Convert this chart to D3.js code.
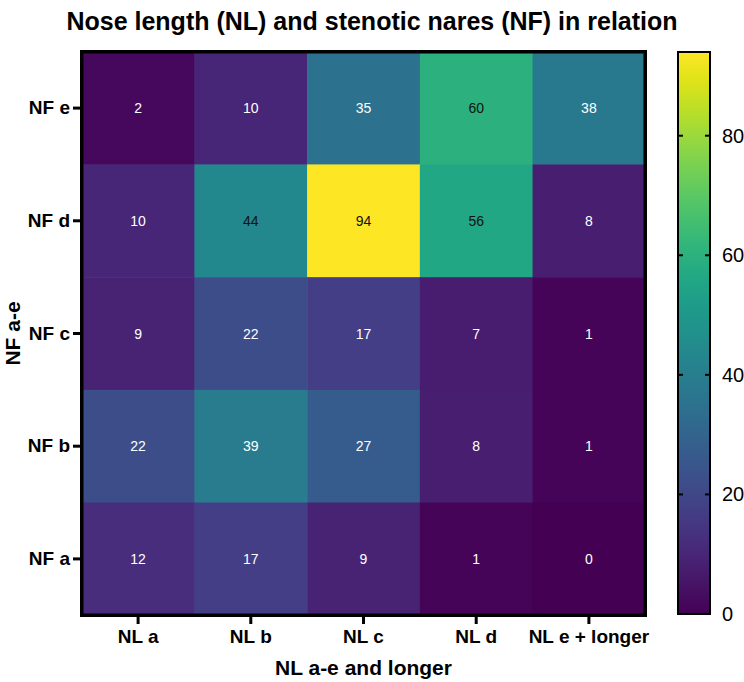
<!DOCTYPE html>
<html>
<head>
<meta charset="utf-8">
<script src="https://cdn.jsdelivr.net/npm/d3@7"></script>
<style>
  body { margin: 0; background: #fff; }
  text { font-family: "Liberation Sans", Arial, sans-serif; }
</style>
</head>
<body>
<div id="wrapper"></div>
<script>
// Data
const nlCategories = ["NL a", "NL b", "NL c", "NL d", "NL e + longer"];
const nfCategories = ["NF e", "NF d", "NF c", "NF b", "NF a"];
const nfE = [2, 10, 35, 60, 38];
const nfD = [10, 44, 94, 56, 8];
const nfC = [9, 22, 17, 7, 1];
const nfB = [22, 39, 27, 8, 1];
const nfA = [12, 17, 9, 1, 0];
const colorTicks = [0, 20, 40, 60, 80];
const colorMax = 94;

const TITLE = "Nose length (NL) and stenotic nares (NF) in relation";
const X_TITLE = "NL a-e and longer";
const Y_TITLE = "NF a-e";

// Constants
const WIDTH = 744;
const HEIGHT = 682;
const plot = { left: 81.75, right: 645.25, top: 51.75, bottom: 615.25 };
const bar = { left: 678, right: 710, top: 52, bottom: 614 };

function drawHeatmap() {
    const rows = [nfE, nfD, nfC, nfB, nfA];
    const cells = [];
    rows.forEach((vals, i) => vals.forEach((v, j) => cells.push({
        nf: nfCategories[i], nl: nlCategories[j], value: v
    })));

    const svg = d3.select("#wrapper")
        .append("svg")
        .attr("width", WIDTH)
        .attr("height", HEIGHT);

    // Scales
    const xScale = d3.scaleBand().domain(nlCategories).range([plot.left, plot.right]).padding(0);
    const yScale = d3.scaleBand().domain(nfCategories).range([plot.top, plot.bottom]).padding(0);
    const color = d3.scaleSequential(d3.interpolateViridis).domain([0, colorMax]);

    // Cells
    svg.append("g").selectAll("rect")
        .data(cells)
        .join("rect")
        .attr("x", d => xScale(d.nl))
        .attr("y", d => yScale(d.nf))
        .attr("width", xScale.bandwidth() + 0.5)
        .attr("height", yScale.bandwidth() + 0.5)
        .attr("fill", d => color(d.value));

    svg.append("g").selectAll("text")
        .data(cells)
        .join("text")
        .attr("x", d => xScale(d.nl) + xScale.bandwidth() / 2)
        .attr("y", d => yScale(d.nf) + yScale.bandwidth() / 2)
        .attr("text-anchor", "middle")
        .attr("dominant-baseline", "central")
        .attr("font-size", 14)
        .attr("fill", d => d.value > 40 ? "#111" : "#fff")
        .text(d => d.value);

    // Frame
    svg.append("rect")
        .attr("x", plot.left).attr("y", plot.top)
        .attr("width", plot.right - plot.left)
        .attr("height", plot.bottom - plot.top)
        .attr("fill", "none")
        .attr("stroke", "#000")
        .attr("stroke-width", 3.5);

    // Axes
    const xAxis = svg.append("g")
        .attr("transform", `translate(0, ${plot.bottom + 1.75})`)
        .call(d3.axisBottom(xScale).tickSize(7).tickPadding(6));
    const yAxis = svg.append("g")
        .attr("transform", `translate(${plot.left - 1.75}, 0)`)
        .call(d3.axisLeft(yScale).tickSize(7).tickPadding(3));
    [xAxis, yAxis].forEach(ax => {
        ax.select(".domain").remove();
        ax.selectAll(".tick line").attr("stroke", "#000").attr("stroke-width", 3);
        ax.selectAll(".tick text")
            .attr("fill", "#000")
            .attr("font-size", 19)
            .attr("font-weight", "bold")
            .style("font-family", "'Liberation Sans', Arial, sans-serif");
    });

    // Titles
    svg.append("text")
        .attr("x", WIDTH / 2).attr("y", 30)
        .attr("text-anchor", "middle")
        .attr("font-size", 25)
        .attr("font-weight", "bold")
        .text(TITLE);

    svg.append("text")
        .attr("x", (plot.left + plot.right) / 2).attr("y", 675)
        .attr("text-anchor", "middle")
        .attr("font-size", 21)
        .attr("font-weight", "bold")
        .text(X_TITLE);

    svg.append("text")
        .attr("transform", `translate(20, ${(plot.top + plot.bottom) / 2}) rotate(-90)`)
        .attr("text-anchor", "middle")
        .attr("font-size", 21)
        .attr("font-weight", "bold")
        .text(Y_TITLE);

    // Colour bar
    const cScale = d3.scaleLinear().domain([0, colorMax]).range([bar.bottom, bar.top]);
    const grad = svg.append("defs").append("linearGradient")
        .attr("id", "viridis")
        .attr("x1", 0).attr("y1", 1).attr("x2", 0).attr("y2", 0);
    d3.range(0, 1.0001, 0.05).forEach(t => {
        grad.append("stop").attr("offset", t).attr("stop-color", d3.interpolateViridis(t));
    });
    svg.append("rect")
        .attr("x", bar.left).attr("y", bar.top)
        .attr("width", bar.right - bar.left)
        .attr("height", bar.bottom - bar.top)
        .attr("fill", "url(#viridis)")
        .attr("stroke", "#000")
        .attr("stroke-width", 2);

    const cTicks = svg.append("g");
    cTicks.selectAll("line.l")
        .data(colorTicks.filter(d => d > 0))
        .join("line")
        .attr("x1", bar.left).attr("x2", bar.left + 5)
        .attr("y1", d => cScale(d)).attr("y2", d => cScale(d))
        .attr("stroke", "#000").attr("stroke-width", 2);
    cTicks.selectAll("line.r")
        .data(colorTicks.filter(d => d > 0))
        .join("line")
        .attr("x1", bar.right - 5).attr("x2", bar.right)
        .attr("y1", d => cScale(d)).attr("y2", d => cScale(d))
        .attr("stroke", "#000").attr("stroke-width", 2);
    cTicks.selectAll("text")
        .data(colorTicks)
        .join("text")
        .attr("x", 722)
        .attr("y", d => cScale(d))
        .attr("dominant-baseline", "central")
        .attr("font-size", 20)
        .text(d => d);
}
drawHeatmap();
</script>
</body>
</html>
